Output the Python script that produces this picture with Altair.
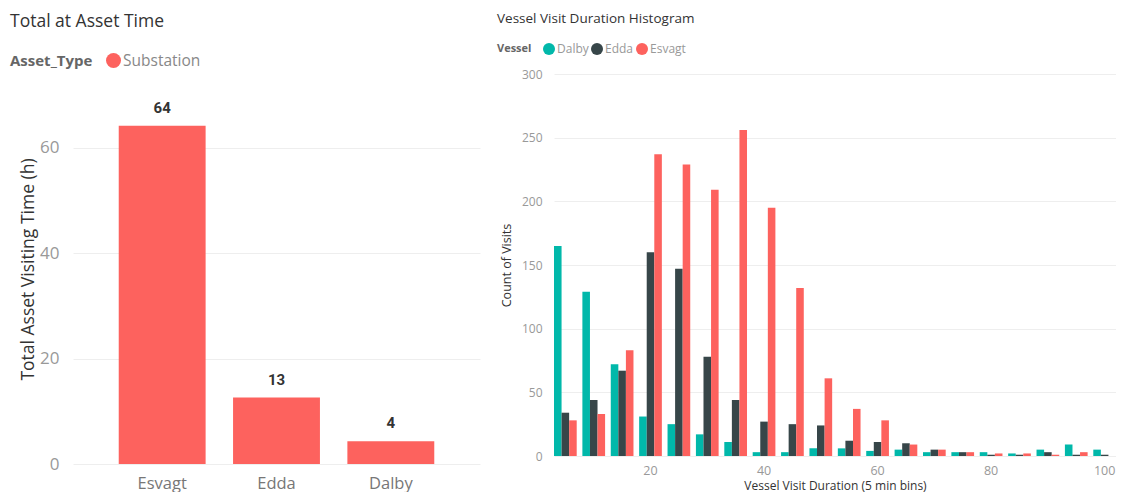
import altair as alt
import pandas as pd

# ---- data: left panel ----
assets = ["Esvagt", "Edda", "Dalby"]
asset_hours = [64.2, 12.6, 4.3]
asset_labels = ["64", "13", "4"]
asset_types = ["Substation", "Substation", "Substation"]

# ---- data: right panel ----
bins = [5, 10, 15, 20, 25, 30, 35, 40, 45, 50, 55, 60, 65, 70, 75, 80, 85, 90, 95, 100]
vessels = ["Dalby", "Edda", "Esvagt"]
dalby = [165, 129, 72, 31, 25, 17, 11, 3, 3, 6, 6, 4, 5, 3, 3, 3, 2, 5, 9, 5]
edda = [34, 44, 67, 160, 147, 78, 44, 27, 25, 24, 12, 11, 10, 5, 3, 1, 1, 3, 1, 1]
esvagt = [28, 33, 83, 237, 229, 209, 256, 195, 132, 61, 37, 28, 9, 5, 3, 2, 2, 1, 3, 0]

RED = "#FD625E"
TEAL = "#01B8AA"
DARK = "#374649"
FONT = "Open Sans"

left_df = pd.DataFrame({
    "Asset": assets,
    "Hours": asset_hours,
    "Label": asset_labels,
    "Asset_Type": asset_types,
})

rows = []
for name, series in zip(vessels, [dalby, edda, esvagt]):
    for b, c in zip(bins, series):
        rows.append({"Bin": b, "Vessel": name, "Count": c})
hist_df = pd.DataFrame(rows)

left_base = alt.Chart(left_df)
left_bars = left_base.mark_bar().encode(
    x=alt.X("Asset:N", sort=assets,
            scale=alt.Scale(paddingInner=0.24, paddingOuter=0.4),
            axis=alt.Axis(title=None, labelAngle=0, labelFontSize=16.5, labelColor="#777777",
                          labelFont=FONT, ticks=False, domain=False, labelPadding=11)),
    y=alt.Y("Hours:Q", scale=alt.Scale(domain=[0, 74], nice=False),
            axis=alt.Axis(values=[0, 20, 40, 60], title="Total Asset Visiting Time (h)",
                          titleFontSize=17.5, titleFont=FONT, titleColor="#333333",
                          titleFontWeight="normal", titlePadding=2,
                          labelFontSize=17, labelColor="#999999", labelFont=FONT,
                          ticks=False, domain=False, labelPadding=14,
                          gridColor="#EEEEEE")),
    color=alt.Color("Asset_Type:N", scale=alt.Scale(range=[RED]),
                    legend=alt.Legend(orient="none", legendX=-63, legendY=-22,
                                      direction="horizontal", titleOrient="left",
                                      title="Asset_Type", titleFontSize=15, titleFont=FONT,
                                      titleFontWeight="bold", titleColor="#666666",
                                      labelFontSize=15.5, labelFont=FONT, labelColor="#888888",
                                      symbolType="circle", symbolSize=225, labelOffset=1,
                                      titlePadding=12)),
)
left_text = left_base.mark_text(baseline="bottom", dy=-10, font="Roboto", fontSize=15,
                                fontWeight="bold", color="#333333").encode(
    x=alt.X("Asset:N", sort=assets),
    y=alt.Y("Hours:Q"),
    text="Label:N",
)
left = alt.layer(left_bars, left_text).properties(
    width=407, height=390,
    title=alt.TitleParams("Total at Asset Time", anchor="start", frame="bounds",
                          fontSize=17.5, font=FONT, fontWeight="normal", color="#333333",
                          offset=22),
)

right = alt.Chart(hist_df).mark_bar().encode(
    x=alt.X("Bin:O", scale=alt.Scale(paddingInner=0.2, paddingOuter=0),
            axis=alt.Axis(title="Vessel Visit Duration (5 min bins)",
                          labelExpr="datum.value % 20 == 0 ? datum.label : ''",
                          labelAngle=0, labelFontSize=12.5, labelColor="#999999", labelFont=FONT,
                          titleFontSize=12, titleFont=FONT, titleColor="#333333",
                          titleFontWeight="normal", titlePadding=4,
                          ticks=False, domain=False, labelPadding=8)),
    xOffset=alt.XOffset("Vessel:N", sort=vessels),
    y=alt.Y("Count:Q", scale=alt.Scale(domain=[0, 300], nice=False),
            axis=alt.Axis(values=[0, 50, 100, 150, 200, 250, 300], title="Count of Visits",
                          titleFontSize=12.5, titleFont=FONT, titleColor="#333333",
                          titleFontWeight="normal", titlePadding=8,
                          labelFontSize=12, labelColor="#999999", labelFont=FONT,
                          ticks=False, domain=False, labelPadding=12,
                          gridColor="#EEEEEE")),
    color=alt.Color("Vessel:N", sort=vessels,
                    scale=alt.Scale(domain=vessels, range=[TEAL, DARK, RED]),
                    legend=alt.Legend(orient="none", legendX=-57, legendY=-32,
                                      direction="horizontal", titleOrient="left",
                                      title="Vessel", titleFontSize=11, titleFont=FONT,
                                      titleFontWeight="bold", titleColor="#666666",
                                      labelFontSize=12, labelFont=FONT, labelColor="#999999",
                                      symbolType="circle", symbolSize=144, labelOffset=1,
                                      titlePadding=10, columnPadding=1)),
).properties(
    width=562, height=382,
    title=alt.TitleParams("Vessel Visit Duration Histogram", anchor="start", frame="bounds",
                          fontSize=13.5, font=FONT, fontWeight="normal", color="#333333",
                          offset=17),
)

chart = alt.hconcat(left, right, spacing=17).properties(
    padding={"left": 2, "top": 3, "right": 0, "bottom": 0}
).resolve_scale(color="independent").configure_view(stroke=None)

chart.save("out.html", embed_options={"renderer": "svg", "actions": False})
